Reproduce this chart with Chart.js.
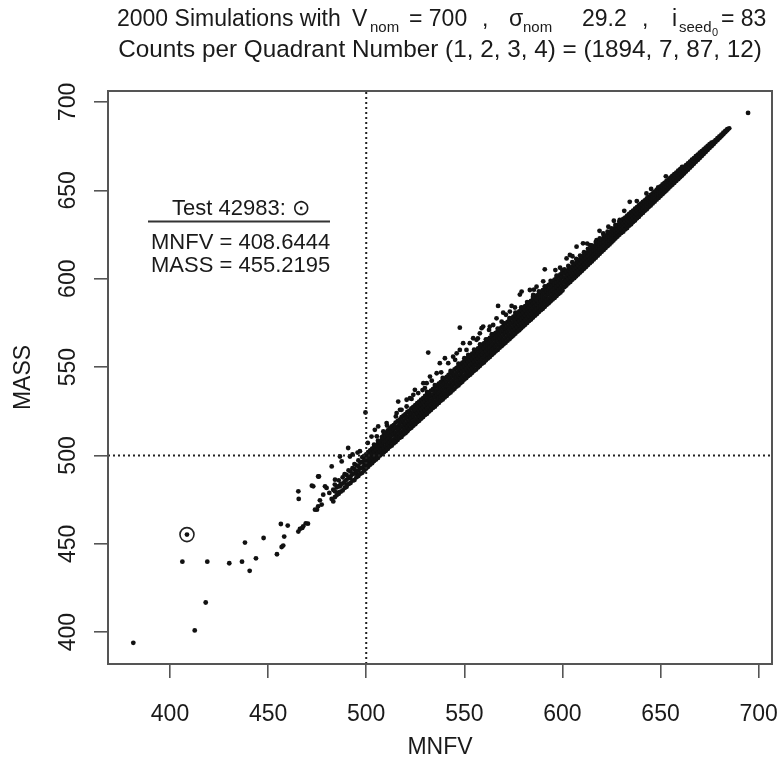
<!DOCTYPE html>
<html>
<head>
<meta charset="utf-8">
<title>MASS vs MNFV</title>
<script src="https://cdn.jsdelivr.net/npm/chart.js@4/dist/chart.umd.min.js"></script>
<style>
  html, body { margin: 0; padding: 0; background: #fff; }
  canvas { display: block; }
</style>
</head>
<body>
<canvas id="chart" width="782" height="763"></canvas>
<script>
// axis limits and ticks
const xLimits = [368.4, 706.8];
const yLimits = [382.0, 706.2];
const xTicks = [400, 450, 500, 550, 600, 650, 700];
const yTicks = [400, 450, 500, 550, 600, 650, 700];

// quadrant cut lines
const cutMnfv = 500;
const cutMass = 500;

// the highlighted test
const testPoint = { x: 408.6444, y: 455.2195 };

// loose points below and left of the main band, [MNFV, MASS]
const lowerTail = [
  [381.3, 394.0], [412.6, 401.0], [418.2, 416.8], [406.3, 439.9], [419.0, 439.9], [430.2, 439.0],
  [436.7, 439.9], [440.6, 434.7], [443.8, 441.8], [438.2, 450.7], [447.7, 453.3], [454.5, 444.1],
  [456.9, 448.2], [457.7, 449.0], [458.2, 454.1], [456.5, 461.2], [460.0, 460.3], [465.4, 456.9],
  [466.2, 458.4], [467.4, 459.0], [470.3, 461.4], [465.4, 479.7], [465.6, 475.4], [472.3, 482.9],
  [475.9, 488.1], [474.9, 469.3], [476.4, 474.6], [478.1, 477.8], [481.2, 478.8], [482.4, 475.4],
  [483.2, 474.0], [485.9, 479.1], [486.6, 482.5], [490.0, 483.4], [491.7, 487.2], [495.1, 489.7],
  [479.8, 481.6], [483.2, 480.6], [477.3, 472.2], [467.9, 459.9], [469.2, 461.6], [473.9, 469.3],
  [475.5, 471.2], [475.5, 488.1], [473.0, 482.5], [479.0, 482.5], [482.4, 493.8], [487.5, 496.6],
  [484.1, 486.3], [486.6, 499.4], [491.7, 499.4]
];

// points sitting above the band
const upperScatter = [
  [490.8, 504.2], [499.6, 524.3], [502.7, 510.7], [504.4, 514.5], [506.1, 516.4], [510.4, 518.3],
  [508.7, 513.6], [512.1, 514.5], [515.5, 524.0], [517.2, 525.8], [516.3, 530.5], [520.6, 531.5],
  [524.0, 534.3], [524.8, 537.1], [529.9, 538.1], [530.8, 540.9], [531.6, 558.2], [547.7, 572.3],
  [549.4, 563.5], [567.2, 584.6], [569.8, 580.8], [566.4, 577.6], [564.7, 573.8], [559.6, 572.9],
  [518.0, 525.8], [520.6, 527.7], [522.3, 532.4], [526.5, 535.3], [529.1, 540.9], [532.5, 544.6],
  [535.9, 546.5], [537.5, 552.2], [540.1, 555.0], [541.8, 552.2], [544.3, 555.9], [546.1, 557.8],
  [547.7, 559.7], [551.1, 559.7], [552.8, 563.5], [556.2, 565.4], [557.9, 569.1], [554.5, 566.3],
  [574.1, 584.6], [573.2, 581.4], [569.0, 575.7], [558.8, 572.0], [563.0, 572.9], [578.3, 591.0],
  [579.2, 592.7], [591.0, 605.3], [583.4, 593.6], [586.8, 595.5], [585.1, 590.8], [602.1, 611.5],
  [603.8, 613.4], [607.2, 618.1], [610.5, 620.0], [614.0, 619.0], [617.4, 621.8], [620.8, 625.6],
  [623.4, 629.4], [629.2, 633.2], [634.3, 643.5], [648.8, 651.6], [642.8, 648.2], [660.7, 662.4],
  [585.5, 593.8], [590.2, 598.5], [596.4, 604.9], [598.8, 606.2], [605.1, 612.7], [612.6, 619.9],
  [618.9, 627.1], [626.2, 632.8], [631.5, 638.4], [637.9, 643.9], [645.2, 650.8], [652.7, 657.9],
  [571.2, 579.6], [575.8, 583.7], [562.6, 571.0], [556.9, 566.2], [545.3, 554.1], [538.2, 547.0],
  [533.4, 542.3], [528.7, 537.0], [523.1, 532.0], [515.1, 522.1], [510.6, 516.9], [505.4, 510.8],
  [500.8, 507.1], [495.6, 501.6], [493.0, 500.6], [496.8, 502.4], [694.6, 693.8]
];

// the dense band, one row per MNFV column: [MNFV, MASS, MASS, ...]
const bandColumns = [
  [484, 476.4, 479.7, 483.5], [485, 477.6, 481.9], [486, 478.3, 482.6, 485.9], [487, 479.5, 483.9],
  [488, 480.2, 484.1, 487.6], [489, 481.6, 485.3, 489.4], [490, 482.3, 486.2, 489.0],
  [491, 483.8, 487.4, 491.6], [492, 484.4, 488.1, 490.9], [493, 485.7, 489.3, 492.8],
  [494, 486.1, 489.8, 492.2, 495.1], [495, 487.6, 491.1, 494.4], [496, 488.3, 491.5, 494.0, 497.2],
  [497, 489.6, 492.8, 495.9], [498, 490.2, 493.1, 496.4, 499.0], [499, 491.4, 494.5, 497.2, 499.8],
  [500, 492.6, 495.3, 497.9, 500.6], [501, 493.6, 496.4, 499.1, 501.9], [502, 494.8, 497.2, 500.3, 502.8],
  [503, 495.6, 498.5, 501.0, 503.9], [504, 496.9, 499.4, 502.2, 504.8, 506.1], [505, 497.7, 500.5, 503.1, 505.6],
  [506, 498.6, 501.4, 503.8, 506.7, 508.3], [507, 499.9, 502.3, 505.2, 507.6],
  [508, 500.7, 503.4, 505.9, 508.8, 510.4], [509, 501.8, 504.1, 507.2, 509.5, 511.7],
  [510, 502.6, 505.3, 507.8, 510.6, 512.9], [511, 503.7, 506.2, 509.1, 511.5, 514.2],
  [512, 504.9, 507.4, 509.8, 512.7, 515.3], [513, 505.5, 508.3, 511.2, 513.6, 516.4],
  [514, 506.8, 509.1, 512.0, 514.8, 517.2], [515, 507.6, 510.4, 512.9, 515.7, 518.6],
  [516, 508.7, 511.1, 514.0, 516.5, 519.4], [517, 509.9, 512.5, 515.2, 517.8, 520.3],
  [518, 510.5, 513.2, 515.9, 518.7, 521.6], [519, 511.8, 514.4, 517.1, 519.5, 522.5],
  [520, 512.6, 515.3, 517.8, 520.9, 523.4], [521, 513.7, 516.1, 519.0, 521.6, 524.7],
  [522, 514.9, 517.5, 519.9, 522.8, 525.2], [523, 515.6, 518.4, 521.2, 523.7, 526.6],
  [524, 516.8, 519.2, 521.9, 524.9, 527.5], [525, 517.7, 520.5, 523.3, 525.6, 528.4],
  [526, 518.9, 521.4, 524.0, 526.9, 529.6], [527, 519.6, 522.3, 525.1, 527.8, 530.5],
  [528, 520.8, 523.6, 526.2, 528.7, 531.6], [529, 521.7, 524.2, 527.3, 529.9, 532.4],
  [530, 522.9, 525.5, 528.0, 530.8, 533.7], [531, 523.6, 526.4, 529.2, 531.7, 534.6, 536.0],
  [532, 524.8, 527.3, 530.1, 532.9, 535.4], [533, 525.7, 528.5, 531.0, 533.8, 536.7],
  [534, 526.9, 529.4, 532.3, 534.6, 537.5], [535, 527.6, 530.5, 533.1, 535.9, 538.6, 539.8],
  [536, 528.8, 531.3, 534.2, 536.7, 539.5], [537, 529.7, 532.6, 535.0, 537.9, 540.6],
  [538, 530.9, 533.4, 536.3, 538.8, 541.4], [539, 531.6, 534.5, 537.1, 539.7, 542.7, 543.9],
  [540, 532.8, 535.2, 538.0, 540.9, 543.5], [541, 533.7, 536.6, 539.3, 541.8, 544.4],
  [542, 534.9, 537.3, 540.1, 542.7, 545.6], [543, 535.6, 538.5, 541.2, 543.9, 546.5, 547.8],
  [544, 536.8, 539.4, 542.0, 544.8, 547.3], [545, 537.7, 540.6, 543.3, 545.6, 548.7],
  [546, 538.9, 541.3, 544.1, 546.9, 549.5], [547, 539.6, 542.5, 545.2, 547.8, 550.4, 551.9],
  [548, 540.8, 543.4, 546.0, 548.7, 551.6], [549, 541.7, 544.6, 547.3, 549.9, 552.5],
  [550, 542.9, 545.3, 548.1, 550.8, 553.4, 555.0], [551, 543.8, 546.6, 549.2, 551.7, 554.6],
  [552, 544.9, 547.4, 550.3, 552.9, 555.5, 556.9], [553, 545.7, 548.5, 551.0, 553.8, 556.4],
  [554, 546.8, 549.3, 552.2, 554.7, 557.6], [555, 547.9, 550.6, 553.1, 555.9, 558.3, 559.8],
  [556, 548.6, 551.4, 554.3, 556.8, 559.6], [557, 549.8, 552.5, 555.0, 557.7, 560.5],
  [558, 550.7, 553.3, 556.2, 558.9, 561.4, 562.8], [559, 551.9, 554.6, 557.1, 559.6, 562.5],
  [560, 552.6, 555.4, 558.3, 560.8, 563.4], [561, 553.8, 556.5, 559.0, 561.9, 564.3, 565.7],
  [562, 554.9, 557.3, 560.2, 562.7, 565.6], [563, 555.7, 558.6, 561.1, 563.8, 566.5],
  [564, 556.9, 559.4, 562.3, 564.9, 567.3, 568.6], [565, 557.8, 560.5, 563.0, 565.7, 568.6],
  [566, 558.9, 561.6, 564.2, 566.8, 569.4], [567, 559.7, 562.4, 565.1, 567.9, 570.3, 571.8],
  [568, 560.9, 563.5, 566.3, 568.8, 571.6], [569, 561.8, 564.6, 567.0, 569.7, 572.5],
  [570, 562.9, 565.4, 568.2, 570.9, 573.3, 574.9], [571, 563.7, 566.5, 569.3, 571.8, 574.6],
  [572, 564.9, 567.6, 570.1, 572.7, 575.5], [573, 565.8, 568.4, 571.2, 573.9, 576.4, 577.7],
  [574, 566.9, 569.5, 572.3, 574.8, 577.6], [575, 567.8, 570.6, 573.0, 575.7, 578.5],
  [576, 568.9, 571.4, 574.2, 576.9, 579.3, 580.8], [577, 570.0, 572.6, 575.3, 577.8, 580.6],
  [578, 570.8, 573.5, 576.1, 578.7, 581.5], [579, 571.9, 574.6, 577.2, 579.9, 582.4, 583.7],
  [580, 573.0, 575.5, 578.3, 580.8, 583.6], [581, 573.9, 576.7, 579.1, 581.9, 584.5],
  [582, 575.0, 577.6, 580.3, 582.8, 585.4, 586.8], [583, 576.1, 578.5, 581.4, 583.9, 586.6],
  [584, 576.9, 579.7, 582.2, 584.8, 587.5], [585, 578.0, 580.6, 583.3, 585.9, 588.4, 589.7],
  [586, 579.1, 581.7, 584.4, 586.8, 589.6], [587, 580.0, 582.8, 585.2, 587.9, 590.5],
  [588, 581.1, 583.6, 586.4, 588.9, 591.4, 592.8], [589, 582.2, 584.7, 587.3, 589.8, 592.6],
  [590, 583.0, 585.8, 588.4, 590.9, 593.5], [591, 584.1, 586.7, 589.3, 591.8, 594.4, 595.7],
  [592, 585.2, 587.8, 590.4, 592.9, 595.6], [593, 586.1, 588.6, 591.5, 593.8, 596.5],
  [594, 587.2, 589.7, 592.3, 594.9, 597.4, 598.8], [595, 588.3, 590.8, 593.4, 595.8, 598.6],
  [596, 589.1, 591.9, 594.5, 596.9, 599.5], [597, 590.2, 592.8, 595.3, 597.9, 600.4, 601.7],
  [598, 591.3, 593.9, 596.4, 598.8, 601.6], [599, 592.2, 594.7, 597.5, 599.9, 602.5],
  [600, 593.3, 595.8, 598.4, 600.9, 603.4, 604.7], [601, 595.2, 597.8, 600.4, 603.0, 605.3],
  [602, 596.1, 598.9, 601.4, 603.9], [603, 597.3, 599.8, 602.5, 605.1, 607.2],
  [604, 598.2, 600.9, 603.4, 606.0], [605, 599.4, 601.8, 604.6, 607.0, 609.3],
  [606, 600.3, 602.9, 605.5, 608.1], [607, 601.4, 603.9, 606.6, 609.0, 611.2],
  [608, 602.4, 604.9, 607.5, 610.1], [609, 603.5, 606.0, 608.6, 611.0, 613.1],
  [610, 604.5, 607.0, 609.5, 612.1], [611, 605.6, 608.1, 610.7, 613.0, 615.0],
  [612, 606.6, 609.1, 611.6, 614.1], [613, 607.7, 610.2, 612.7, 615.0, 616.9],
  [614, 608.8, 611.1, 613.7, 616.1], [615, 609.8, 612.3, 614.7, 617.0, 618.9],
  [616, 610.9, 613.3, 615.8, 618.1], [617, 611.9, 614.4, 616.7, 619.0, 620.8],
  [618, 613.0, 615.4, 617.8, 620.1], [619, 614.1, 616.4, 618.8, 621.0, 622.8],
  [620, 615.2, 617.5, 619.9, 622.1], [621, 616.2, 618.5, 620.8, 623.0, 624.7],
  [622, 617.3, 619.6, 621.9, 624.1], [623, 618.4, 620.6, 622.9, 625.0, 626.6],
  [624, 619.4, 621.7, 623.9, 626.1], [625, 620.5, 622.7, 624.9, 627.0, 628.5],
  [626, 621.6, 623.8, 626.0, 628.1], [627, 622.7, 624.8, 627.0, 629.0, 630.4],
  [628, 623.8, 625.9, 628.0, 630.1], [629, 624.8, 626.9, 629.0, 631.0, 632.3],
  [630, 625.9, 628.0, 630.1, 632.1], [631, 626.6, 629.0, 631.4, 633.8],
  [632, 627.9, 630.1, 632.5, 634.6], [633, 628.7, 631.1, 633.4, 635.7],
  [634, 630.0, 632.2, 634.5, 636.6], [635, 630.8, 633.2, 635.5, 637.7],
  [636, 632.1, 634.3, 636.6, 638.5], [637, 632.9, 635.2, 637.6, 639.6],
  [638, 634.2, 636.4, 638.6, 640.5], [639, 635.0, 637.3, 639.6, 641.6],
  [640, 636.3, 638.4, 640.7, 642.4], [641, 637.2, 639.4, 641.6, 643.5],
  [642, 638.4, 640.5, 642.7, 644.3], [643, 639.3, 641.5, 643.7, 645.4],
  [644, 640.5, 642.6, 644.7, 646.3], [645, 641.4, 643.6, 645.7, 647.4],
  [646, 642.6, 644.7, 646.8, 648.2], [647, 643.6, 645.7, 647.8, 649.3],
  [648, 644.7, 646.8, 648.8, 650.2], [649, 645.7, 647.8, 649.8, 651.3],
  [650, 646.8, 648.9, 650.9, 652.2], [651, 647.8, 649.9, 651.9, 653.3],
  [652, 648.9, 651.0, 652.9, 654.2], [653, 649.9, 652.0, 654.0, 655.2],
  [654, 651.0, 653.1, 655.0, 656.1], [655, 652.1, 654.1, 656.0, 657.2],
  [656, 653.1, 655.1, 657.0, 658.1], [657, 654.2, 656.2, 658.1, 659.1],
  [658, 655.3, 657.2, 659.1, 660.0], [659, 656.3, 658.3, 660.1, 661.1],
  [660, 657.4, 659.3, 661.1, 662.0], [661, 658.4, 660.4, 662.2, 663.2],
  [662, 659.5, 661.4, 663.2], [663, 660.6, 662.5, 664.2], [664, 661.7, 663.5, 665.3],
  [665, 662.8, 664.6, 666.2], [666, 663.9, 665.6, 667.3], [667, 665.0, 666.7, 668.2],
  [668, 666.1, 667.8, 669.3], [669, 667.2, 668.8, 670.2], [670, 668.3, 669.9, 671.3],
  [671, 669.4, 671.0, 672.2], [672, 670.5, 672.0, 673.2], [673, 671.7, 673.1, 674.1],
  [674, 672.8, 674.2, 675.1], [675, 673.9, 675.2, 676.1], [676, 675.0, 676.3, 677.0],
  [677, 676.1, 677.4], [678, 677.3, 678.4], [679, 678.4, 679.5], [680, 679.5, 680.5],
  [681, 680.6, 681.5], [682, 681.7, 682.6], [683, 682.9, 683.6], [684, 684.0, 684.6], [685, 685.1]
];

const bandPoints = [];
bandColumns.forEach(col => {
    for (let i = 1; i < col.length; i++) bandPoints.push({ x: col[0], y: col[i] });
});

const simPoints = lowerTail.concat(upperScatter)
    .map(p => ({ x: p[0], y: p[1] }))
    .concat(bandPoints);

const fontFamily = '"Liberation Sans", Arial, Helvetica, sans-serif';
const textColor = "#1a1a1a";

// first title line, pieces placed left to right (x is the left edge)
const titleParts = [
    { t: "2000 Simulations with", x: 117, size: 23, dy: 0 },
    { t: "V", x: 352, size: 23, dy: 0 },
    { t: "nom", x: 370, size: 15, dy: 6 },
    { t: "= 700", x: 409, size: 23, dy: 0 },
    { t: ",", x: 482, size: 23, dy: 0 },
    { t: "σ", x: 509, size: 23, dy: 0 },
    { t: "nom", x: 523, size: 15, dy: 6 },
    { t: "29.2", x: 582, size: 23, dy: 0 },
    { t: ",", x: 642, size: 23, dy: 0 },
    { t: "i", x: 672, size: 23, dy: 0 },
    { t: "seed", x: 679, size: 15, dy: 6 },
    { t: "0", x: 712, size: 11, dy: 10 },
    { t: "= 83", x: 721, size: 23, dy: 0 }
];

const decorations = {
    id: "decorations",
    afterDatasetsDraw(chart) {
        const ctx = chart.ctx;
        const area = chart.chartArea;
        const xs = chart.scales.x;
        const ys = chart.scales.y;
        ctx.save();

        // plot box
        ctx.strokeStyle = "#555";
        ctx.lineWidth = 2;
        ctx.strokeRect(area.left, area.top, area.right - area.left, area.bottom - area.top);

        ctx.fillStyle = textColor;

        // x tick labels
        ctx.font = "23px " + fontFamily;
        ctx.textAlign = "center";
        ctx.textBaseline = "alphabetic";
        xTicks.forEach(v => {
            ctx.fillText(String(v), xs.getPixelForValue(v), 721);
        });

        // y tick labels, rotated like R
        yTicks.forEach(v => {
            ctx.save();
            ctx.translate(75, ys.getPixelForValue(v));
            ctx.rotate(-Math.PI / 2);
            ctx.fillText(String(v), 0, 0);
            ctx.restore();
        });

        // axis titles
        ctx.fillText("MNFV", (area.left + area.right) / 2, 754);
        ctx.save();
        ctx.translate(30, (area.top + area.bottom) / 2);
        ctx.rotate(-Math.PI / 2);
        ctx.fillText("MASS", 0, 0);
        ctx.restore();

        // title
        ctx.textAlign = "left";
        titleParts.forEach(p => {
            ctx.font = p.size + "px " + fontFamily;
            ctx.fillText(p.t, p.x, 26 + p.dy);
        });
        ctx.font = "24.3px " + fontFamily;
        ctx.textAlign = "center";
        ctx.fillText("Counts per Quadrant Number (1, 2, 3, 4) = (1894, 7, 87, 12)",
            (area.left + area.right) / 2, 57);

        // test annotation
        ctx.font = "22px " + fontFamily;
        ctx.fillText("Test 42983: ⊙", 241, 215);
        ctx.strokeStyle = "#333";
        ctx.lineWidth = 2;
        ctx.beginPath();
        ctx.moveTo(148, 221.5);
        ctx.lineTo(330, 221.5);
        ctx.stroke();
        ctx.textAlign = "left";
        ctx.fillText("MNFV = " + testPoint.x.toFixed(4), 151, 249);
        ctx.fillText("MASS = " + testPoint.y.toFixed(4), 151, 272);

        ctx.restore();
    }
};

const ctx = document.getElementById("chart").getContext("2d");

new Chart(ctx, {
    type: "scatter",
    data: {
        datasets: [
            {
                type: "line",
                data: [{ x: cutMnfv, y: yLimits[0] }, { x: cutMnfv, y: yLimits[1] }],
                borderColor: "#222",
                borderWidth: 2,
                borderDash: [2, 3],
                pointRadius: 0,
                fill: false
            },
            {
                type: "line",
                data: [{ x: xLimits[0], y: cutMass }, { x: xLimits[1], y: cutMass }],
                borderColor: "#222",
                borderWidth: 2,
                borderDash: [2, 3],
                pointRadius: 0,
                fill: false
            },
            {
                data: simPoints,
                pointRadius: 2.4,
                pointBackgroundColor: "#111",
                pointBorderWidth: 0
            },
            {
                data: [testPoint],
                pointRadius: 7,
                pointBackgroundColor: "rgba(0,0,0,0)",
                pointBorderColor: "#222",
                pointBorderWidth: 1.6
            },
            {
                data: [testPoint],
                pointRadius: 2.4,
                pointBackgroundColor: "#111",
                pointBorderWidth: 0
            }
        ]
    },
    options: {
        responsive: false,
        animation: false,
        events: [],
        layout: { padding: { top: 91, right: 10, left: 0, bottom: 0 } },
        plugins: {
            legend: { display: false },
            tooltip: { enabled: false }
        },
        scales: {
            x: {
                type: "linear",
                min: xLimits[0],
                max: xLimits[1],
                afterBuildTicks: (scale) => { scale.ticks = xTicks.map(v => ({ value: v })); },
                afterFit: (scale) => { scale.height = 99; },
                ticks: { display: false },
                grid: { drawOnChartArea: false, drawTicks: true, tickLength: 14, color: "#555", lineWidth: 1.6 },
                border: { display: false }
            },
            y: {
                type: "linear",
                min: yLimits[0],
                max: yLimits[1],
                afterBuildTicks: (scale) => { scale.ticks = yTicks.map(v => ({ value: v })); },
                afterFit: (scale) => { scale.width = 108; },
                ticks: { display: false },
                grid: { drawOnChartArea: false, drawTicks: true, tickLength: 14, color: "#555", lineWidth: 1.6 },
                border: { display: false }
            }
        }
    },
    plugins: [decorations]
});
</script>
</body>
</html>
